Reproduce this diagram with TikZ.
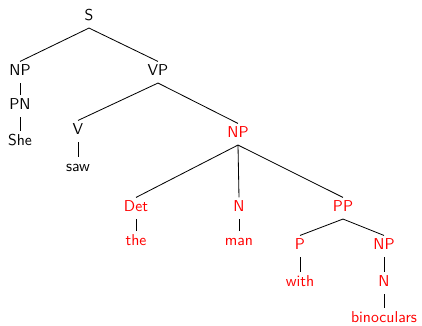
\documentclass[tikz,border=0pt]{standalone}
\usetikzlibrary{positioning}
\begin{document}
\begin{tikzpicture}[x=0.6667pt,y=-0.6667pt,
  lab/.style={anchor=base,font=\sffamily\fontsize{10.5}{12}\selectfont,inner sep=1.5pt,text height=8pt,text depth=3pt},
  hl/.style={lab,text=red},
  edge/.style={draw=black,line width=0.55pt}]
\useasboundingbox (0,0) rectangle (422,326);
% sentence level
\node[lab] (s) at (89,21) {S};
\node[lab] (np1) at (20,76) {NP};
\node[lab] (vp) at (158,76) {VP};
\node[lab] (pn) at (20,110) {PN};
\node[lab] (she) at (20,146) {She};
\node[lab] (v) at (78,135) {V};
\node[lab] (saw) at (78,172) {saw};
% highlighted object noun phrase
\node[hl] (np2) at (238,138) {NP};
\node[hl] (det) at (136,212) {Det};
\node[hl] (the) at (136,246) {the};
\node[hl] (n1) at (239,212) {N};
\node[hl] (man) at (239,246) {man};
\node[hl] (pp) at (343,212) {PP};
\node[hl] (p) at (300,250) {P};
\node[hl] (with) at (300,287) {with};
\node[hl] (np3) at (384,250) {NP};
\node[hl] (n2) at (384,287) {N};
\node[hl] (bin) at (384,323) {binoculars};
% branches
\foreach \a/\b in {s/np1,s/vp,np1/pn,pn/she,vp/v,v/saw,vp/np2,
  np2/det,det/the,np2/n1,n1/man,np2/pp,pp/p,p/with,pp/np3,np3/n2,n2/bin}
  \draw[edge] (\a.south) -- (\b.north);
\end{tikzpicture}
\end{document}
